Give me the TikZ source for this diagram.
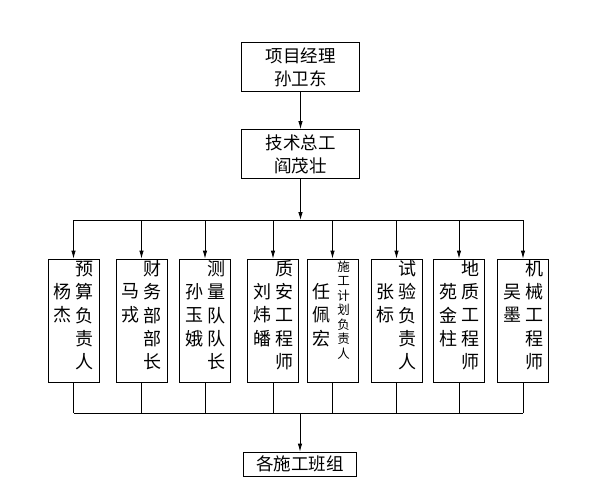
\documentclass[tikz,border=0pt]{standalone}
\usepackage{fontspec}
\setmainfont{Noto Sans CJK SC}
\usetikzlibrary{arrows.meta,calc}
\tikzset{
  box/.style={draw,line width=0.8pt,inner sep=0pt},
  topbox/.style={box,minimum width=118pt,minimum height=49pt,align=center,font=\fontsize{17.5}{23}\selectfont},
  staffbox/.style={box,minimum width=51pt,minimum height=123pt},
  conn/.style={line width=0.8pt},
  arr/.style={conn,-{Latex[length=8pt,width=4.5pt]}},
  ch/.style={font=\fontsize{18}{20}\selectfont,inner sep=0pt},
  chs/.style={font=\fontsize{12.5}{14}\selectfont,inner sep=0pt}
}
\newcommand{\rcol}[3]{% box name, list
  \foreach \c [count=\i] in {#2} {
    \node[ch] (#1r\i) at ($(#1.north)+(11,10+23.3*\i-23.3)$) {\c};
  }}
\newcommand{\lcol}[2]{%
  \foreach \c [count=\i] in {#2} {
    \node[ch] (#1l\i) at ($(#1.north)+(-11,33+23.3*\i-23.3)$) {\c};
  }}
\begin{document}
\begin{tikzpicture}[x=1pt,y=-1pt]
\useasboundingbox (0,0) rectangle (589,485);
\node[topbox] (pm) at (300.5,67) {项目经理\\孙卫东};
\node[topbox] (tc) at (300.5,154) {技术总工\\阎茂壮};
\node[box,minimum width=113pt,minimum height=24pt,font=\fontsize{17.5}{20}\selectfont] (team) at (300,464) {各施工班组};

\node[staffbox] (b1) at (73.5,320.5) {};
\node[staffbox] (b2) at (141.5,320.5) {};
\node[staffbox] (b3) at (205,320.5) {};
\node[staffbox] (b4) at (273,320.5) {};
\node[staffbox] (b5) at (332.5,320.5) {};
\node[staffbox] (b6) at (396.5,320.5) {};
\node[staffbox] (b7) at (459,320.5) {};
\node[staffbox] (b8) at (523,320.5) {};

\rcol{b1}{预,算,负,责,人}{} \lcol{b1}{杨,杰}
\rcol{b2}{财,务,部,部,长}{} \lcol{b2}{马,戎}
\rcol{b3}{测,量,队,队,长}{} \lcol{b3}{孙,玉,娥}
\rcol{b4}{质,安,工,程,师}{} \lcol{b4}{刘,炜,皤}
\foreach \c [count=\i] in {施,工,计,划,负,责,人} {
  \node[chs] (b5r\i) at ($(b5.north)+(11,8+14.5*\i-14.5)$) {\c};
}
\lcol{b5}{任,佩,宏}
\rcol{b6}{试,验,负,责,人}{} \lcol{b6}{张,标}
\rcol{b7}{地,质,工,程,师}{} \lcol{b7}{苑,金,柱}
\rcol{b8}{机,械,工,程,师}{} \lcol{b8}{吴,墨}

\coordinate (bus) at (300.5,220);
\coordinate (lbus) at (300,413);
\draw[arr] (pm.south) -- (tc.north);
\draw[arr] (tc.south) -- (bus);
\draw[conn] (b1 |- bus) -- (b8 |- bus);
\foreach \b in {b1,b2,b3,b4,b5,b6,b7,b8} {
  \draw[arr] (\b |- bus) -- (\b.north);
  \draw[conn] (\b.south) -- (\b |- lbus);
}
\draw[conn] (b1 |- lbus) -- (b8 |- lbus);
\draw[arr] (lbus) -- (team.north);
\end{tikzpicture}
\end{document}
